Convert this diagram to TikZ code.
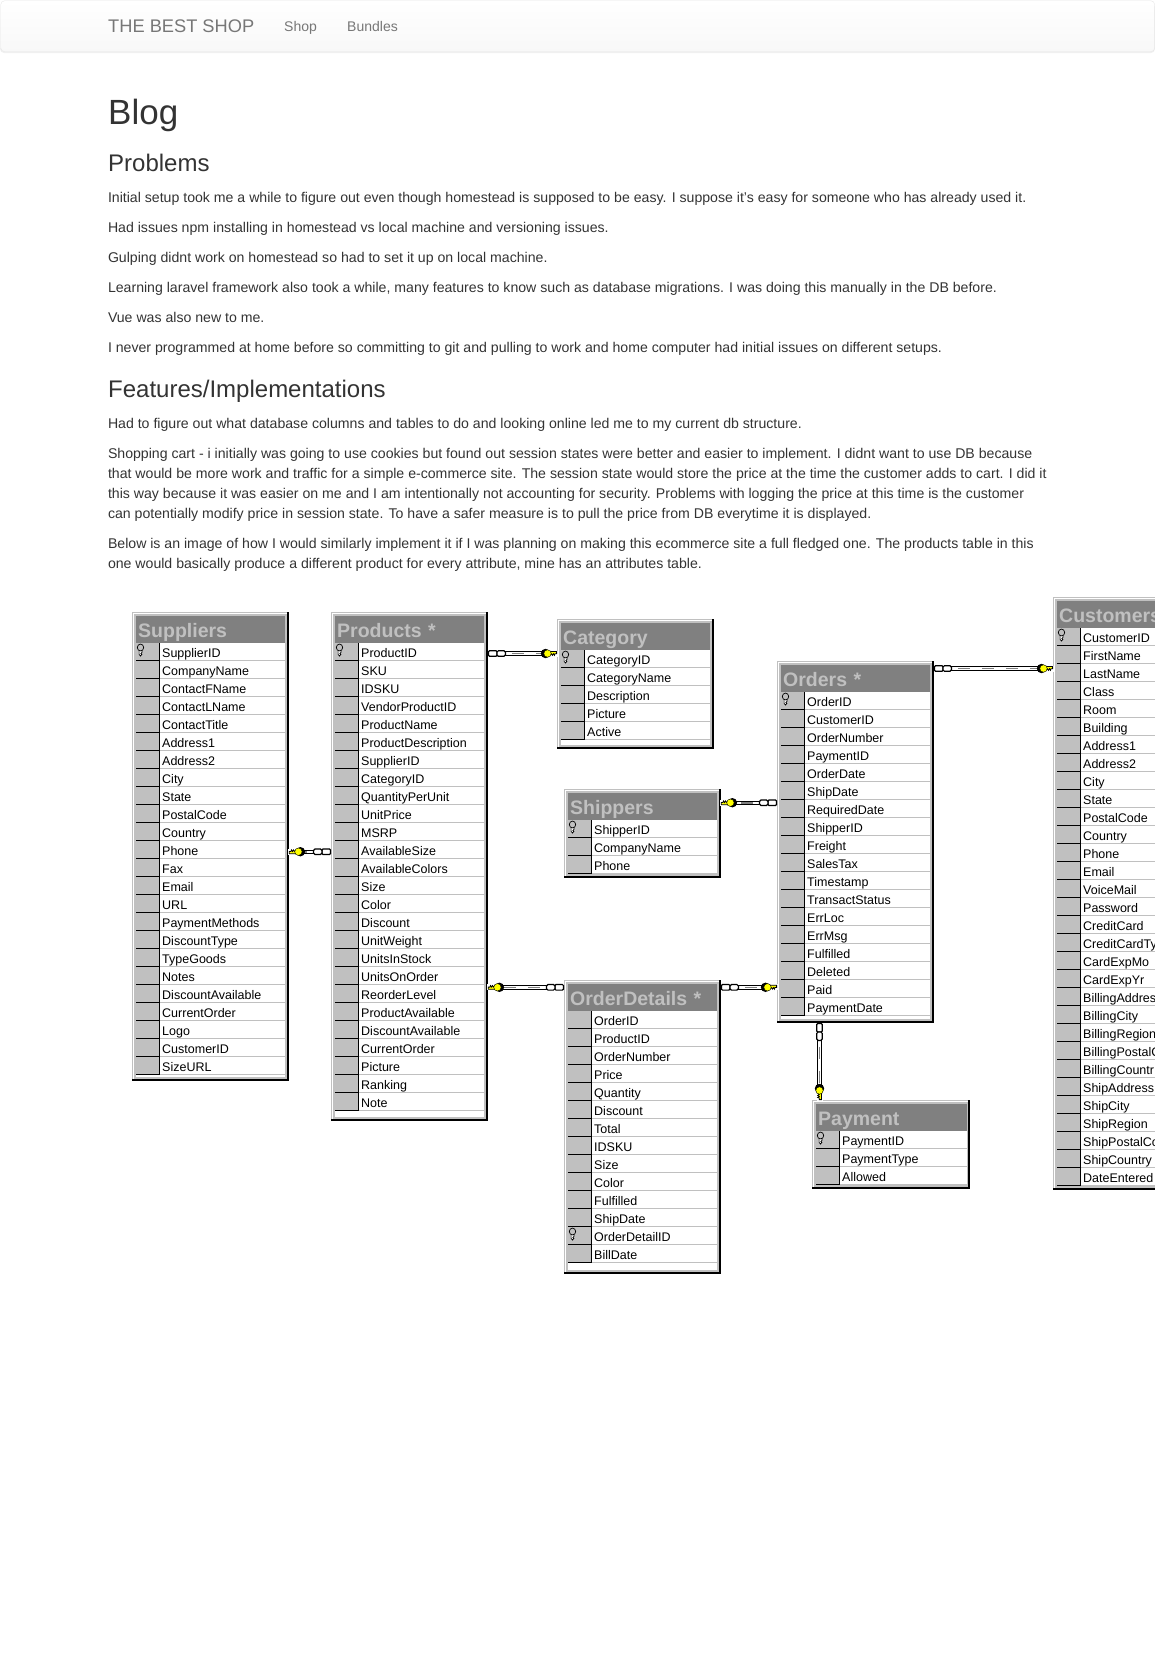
\documentclass[tikz,border=0pt]{standalone}
\usepackage{fontspec}
\setmainfont{Liberation Sans}
\usepackage{tikz}
\usetikzlibrary{positioning,decorations.markings}
\definecolor{inktext}{HTML}{333333}
\definecolor{navtext}{HTML}{777777}
\definecolor{navline}{HTML}{E7E7E7}
\definecolor{navlow}{HTML}{F8F8F8}
\definecolor{framegrey}{HTML}{C0C0C0}
\definecolor{titlegrey}{HTML}{808080}
\definecolor{keyyellow}{HTML}{FFFF00}
\tikzstyle{navbar} = [rectangle, draw=navline, rounded corners=4pt, top color=white, bottom color=navlow, inner sep=0pt, anchor=north west, minimum width=1154pt, minimum height=51pt]
\tikzstyle{brand} = [anchor=base west, inner sep=0pt, text=navtext, font=\fontsize{18.25}{20}\selectfont]
\tikzstyle{navlink} = [anchor=base west, inner sep=0pt, text=navtext, font=\fontsize{14}{20}\selectfont]
\tikzstyle{pagetitle} = [anchor=base west, inner sep=0pt, text=inktext, font=\fontsize{35}{40}\selectfont]
\tikzstyle{heading} = [anchor=base west, inner sep=0pt, text=inktext, font=\fontsize{24}{26}\selectfont]
\tikzstyle{para} = [anchor=north west, inner sep=0pt, outer sep=0pt, align=left, text=inktext, font=\fontsize{14.12}{20}\selectfont]
\tikzstyle{tableframe} = [rectangle, fill=framegrey, inner sep=0pt, anchor=north west]
\tikzstyle{tabletitle} = [rectangle, fill=titlegrey, text=framegrey, anchor=north west, align=left, inner xsep=2pt, inner ysep=0pt, text height=21.3pt, text depth=5.7pt, font=\fontsize{19.5}{20}\bfseries\selectfont]
\tikzstyle{rowtext} = [anchor=base west, inner sep=0pt, text=black, font=\fontsize{12.5}{14}\selectfont]
\tikzstyle{relation} = [draw=black, line width=4.4pt, postaction={draw=white, line width=2.4pt}, postaction={draw=titlegrey, line width=1.6pt, dash pattern=on 12pt off 12pt}, postaction={decorate, decoration={markings, mark=at position 0 with {\chainlinks}, mark=at position 1 with {\yellowkey}}}]

\newcommand{\chainlinks}{%
\draw [solid, line width=1.2pt, fill=white, rounded corners=1pt] (0.6,-2.8) rectangle (9,2.8);
\draw [solid, line width=1.2pt, fill=white, rounded corners=1.5pt] (9,-2.8) rectangle (17.5,2.8);
}
\newcommand{\yellowkey}{%
\fill [white] (-9,-3) rectangle (1,3);
\fill [black] (-11.5,0) circle (4.7pt);
\draw [solid, line width=.8pt, fill=keyyellow] (-7,-2) -- (-.4,-2) -- (-.4,.2) -- (-2,.2) -- (-2.6,1.8) -- (-3.6,.2) -- (-4.6,1.8) -- (-5.6,.2) -- (-7,1.8) -- cycle;
\draw [line width=.4pt, fill=keyyellow] (-9.5,0) circle (3.7pt);
}
\newcommand{\smallkey}[2]{%
\draw [line width=.7pt, fill=white] (#1-1.4,#2+6) -- (#1-1.4,#2+11.5) -- (#1,#2+13) -- (#1+1.4,#2+11.5) -- (#1+.4,#2+10.5) -- (#1+1.4,#2+9.5) -- (#1+1.4,#2+6) -- cycle;
\draw [line width=.7pt, fill=framegrey] (#1,#2+4.5) ellipse (3.2pt and 3.4pt);
}
% name, title, left, top, right, bottom, key row, fields
\newcommand{\dbtable}[8]{%
\node [tableframe, minimum width=#5pt-#3pt, minimum height=#6pt-#4pt] (#1) at (#3,#4) {};
\draw [white, line width=1pt] (#3+1.5,#6-2) -- (#3+1.5,#4+1.5) -- (#5-2,#4+1.5);
\draw [black, line width=1.6pt] (#3,#6-.8) -- (#5-.8,#6-.8) -- (#5-.8,#4);
\fill [white] (#3+4,#4+31) rectangle (#5-3.5,#6-4);
\node [tabletitle, text width=#5pt-#3pt-11.5pt] (#1title) at (#3+4,#4+4) {#2};
\foreach \field [count=\i] in {#8} {
\pgfmathsetmacro{\rowtop}{#4+31+(\i-1)*18}
\fill [framegrey] (#3+4,\rowtop) rectangle (#3+27,\rowtop+17);
\draw [framegrey, line width=1pt] (#3+27,\rowtop+17.5) -- (#5-3.5,\rowtop+17.5);
\draw [black, line width=1pt] (#3+4,\rowtop+17.5) -- (#3+27,\rowtop+17.5) (#3+27.5,\rowtop) -- (#3+27.5,\rowtop+18);
\node [rowtext] (#1\i) at (#3+30,\rowtop+14.3) {\field};
\ifnum\i=#7 \smallkey{#3+8.5}{\rowtop}\fi
}
}

\begin{document}
\begin{tikzpicture}[x=1pt, y=-1pt]
\clip (0,0) rectangle (1155,1666);
\fill [black!6, rounded corners=4pt] (0,3) rectangle (1155,53);
\node [navbar] (navbar) at (.5,.5) {};
\node [brand] (brand) at (108,32) {THE BEST SHOP};
\node [navlink] (shop) at (284,31) {Shop};
\node [navlink] (bundles) at (347,31) {Bundles};
\node [pagetitle] (blog) at (108,124) {Blog};
\node [heading] (problems) at (108,171) {Problems};
\node [para] (p1) at (108,188) {\strut Initial setup took me a while to figure out even though homestead is supposed to be easy. I suppose it's easy for someone who has already used it.};
\node [para, below=10pt of p1.south west, anchor=north west] (p2) {\strut Had issues npm installing in homestead vs local machine and versioning issues.};
\node [para, below=10pt of p2.south west, anchor=north west] (p3) {\strut Gulping didnt work on homestead so had to set it up on local machine.};
\node [para, below=10pt of p3.south west, anchor=north west] (p4) {\strut Learning laravel framework also took a while, many features to know such as database migrations. I was doing this manually in the DB before.};
\node [para, below=10pt of p4.south west, anchor=north west] (p5) {\strut Vue was also new to me.};
\node [para, below=10pt of p5.south west, anchor=north west] (p6) {\strut I never programmed at home before so committing to git and pulling to work and home computer had initial issues on different setups.};
\node [heading] (features) at (108,397) {Features/Implementations};
\node [para] (p7) at (108,414) {\strut Had to figure out what database columns and tables to do and looking online led me to my current db structure.};
\node [para, below=10pt of p7.south west, anchor=north west] (p8) {\strut Shopping cart - i initially was going to use cookies but found out session states were better and easier to implement. I didnt want to use DB because\\\strut that would be more work and traffic for a simple e-commerce site. The session state would store the price at the time the customer adds to cart. I did it\\\strut this way because it was easier on me and I am intentionally not accounting for security. Problems with logging the price at this time is the customer\\\strut can potentially modify price in session state. To have a safer measure is to pull the price from DB everytime it is displayed.};
\node [para, below=10pt of p8.south west, anchor=north west] (p9) {\strut Below is an image of how I would similarly implement it if I was planning on making this ecommerce site a full fledged one. The products table in this\\\strut one would basically produce a different product for every attribute, mine has an attributes table.};
% The tables
\dbtable{suppliers}{Suppliers}{132}{612}{288.5}{1081}{1}{SupplierID,CompanyName,ContactFName,ContactLName,ContactTitle,Address1,Address2,City,State,PostalCode,Country,Phone,Fax,Email,URL,PaymentMethods,DiscountType,TypeGoods,Notes,DiscountAvailable,CurrentOrder,Logo,CustomerID,SizeURL}
\dbtable{products}{Products *}{331}{612}{487.5}{1121}{1}{ProductID,SKU,IDSKU,VendorProductID,ProductName,ProductDescription,SupplierID,CategoryID,QuantityPerUnit,UnitPrice,MSRP,AvailableSize,AvailableColors,Size,Color,Discount,UnitWeight,UnitsInStock,UnitsOnOrder,ReorderLevel,ProductAvailable,DiscountAvailable,CurrentOrder,Picture,Ranking,Note}
\dbtable{category}{Category}{557}{619}{713.5}{748.5}{1}{CategoryID,CategoryName,Description,Picture,Active}
\dbtable{shippers}{Shippers}{564}{789}{720.5}{878}{1}{ShipperID,CompanyName,Phone}
\dbtable{orders}{Orders *}{777}{661}{933.5}{1022.5}{1}{OrderID,CustomerID,OrderNumber,PaymentID,OrderDate,ShipDate,RequiredDate,ShipperID,Freight,SalesTax,Timestamp,TransactStatus,ErrLoc,ErrMsg,Fulfilled,Deleted,Paid,PaymentDate}
\dbtable{orderdetails}{OrderDetails *}{564}{980}{720.5}{1274}{13}{OrderID,ProductID,OrderNumber,Price,Quantity,Discount,Total,IDSKU,Size,Color,Fulfilled,ShipDate,OrderDetailID,BillDate}
\dbtable{payment}{Payment}{812}{1100}{970}{1189}{1}{PaymentID,PaymentType,Allowed}
\dbtable{customers}{Customers}{1053}{597}{1210}{1189.5}{1}{CustomerID,FirstName,LastName,Class,Room,Building,Address1,Address2,City,State,PostalCode,Country,Phone,Email,VoiceMail,Password,CreditCard,CreditCardTy,CardExpMo,CardExpYr,BillingAddres,BillingCity,BillingRegion,BillingPostalC,BillingCountr,ShipAddress,ShipCity,ShipRegion,ShipPostalCo,ShipCountry,DateEntered}
% Draw the edges
\path [relation] (products.west |- 0,851.7) -- (suppliers.east |- 0,851.7);
\path [relation] (products.east |- 0,653.5) -- (category.west |- 0,653.5);
\path [relation] (orders.west |- 0,802.7) -- (shippers.east |- 0,802.7);
\path [relation] (orders.east |- 0,668.5) -- (customers.west |- 0,668.5);
\path [relation] (orderdetails.west |- 0,987.3) -- (products.east |- 0,987.3);
\path [relation] (orderdetails.east |- 0,987.3) -- (orders.west |- 0,987.3);
\path [relation] (819.5,0 |- orders.south) -- (819.5,0 |- payment.north);
\end{tikzpicture}
\end{document}
